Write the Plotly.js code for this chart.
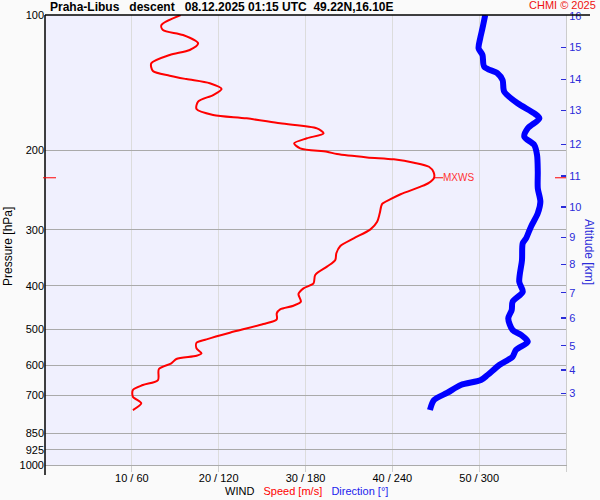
<!DOCTYPE html>
<html><head><meta charset="utf-8">
<script src="https://cdn.plot.ly/plotly-3.0.1.min.js"></script>
<style>html,body{margin:0;padding:0;background:#fafafa}</style>
</head><body><div id="chart" style="width:600px;height:500px"></div>
<script>
// Wind speed profile (m/s) vs pressure (hPa)
const speedPressure = [100,105.3,108.0,110.8,115.6,119.6,122.7,128.0,133.2,136.4,138.8,141.8,146.0,150.6,155.8,161.8,166.8,169.7,174.1,178.6,183.2,187.9,192.8,197.8,201.3,203.7,207.2,209.3,212.9,217.4,223.5,230.0,236.0,240.7,250.2,256.7,263.0,275.9,288.0,299.5,313.5,326.1,338.4,350.2,362.4,378.2,394.8,405.0,416.9,433.6,442.6,450.8,460.1,474.5,486.1,508.2,525.7,534.9,550.5,564.7,571.7,581.4,594.3,611.9,647.4,664.2,681.3,705.1,729.4,754.8];
const speed = [15.63,13.40,13.58,15.90,17.63,16.67,14.36,12.24,12.43,14.36,16.29,18.98,20.34,19.36,17.63,17.45,19.36,23.23,27.08,31.32,32.08,30.16,28.69,29.39,32.47,33.63,37.10,40.17,42.49,44.22,44.75,44.8,44.2,43.26,40.95,39.79,38.83,38.55,38.25,37.48,35.55,34.01,33.55,33.43,32.47,31.12,30.92,29.77,29.19,29.47,28.61,27.08,26.69,26.69,25.14,21.29,18.60,17.45,17.45,18.02,17.45,15.13,14.55,13.12,13.01,11.27,10.12,10.12,11.09,10.12];
// Wind direction profile (deg) vs pressure (hPa)
const dirPressure = [100,107.0,112.7,118.6,122.7,130.3,134.8,139.5,148.0,157.1,165.4,169.7,178.6,186.4,194.5,204.7,222.9,242.7,260.0,275.9,295.4,313.5,321.6,350.2,391.5,412.1,433.6,452.5,472.1,501.2,514.1,532.1,555.1,574.4,599.4,631.0,647.4,664.2,690.8,717.0,754.8];
const direction = [304.2,302.3,300.7,299.6,302.3,303.5,312.7,316.2,317.3,326.6,338.1,341.6,333.6,331.2,338.1,340.0,340.5,340.5,342.3,340.5,335.8,332.4,330.1,329.6,327.7,330.1,323.1,322.5,320.1,323.1,328.9,333.6,325.4,323.1,313.9,305.8,301.2,287.3,278.1,268.8,266.0];
// Axis labels
const pressureTicks = [100,200,300,400,500,600,700,850,925,1000];
const speedTicks = [10,20,30,40,50];
const directionTicks = [60,120,180,240,300];
const altitudeKm = [3,4,5,6,7,8,9,10,11,12,13,14,15,16];
const altitudePressure = [693,615,543,471,414,358,312,267,228,194,163,139,118,100.4];

// maximum wind
let iMax = 0;
speed.forEach((s,i)=>{ if (s > speed[iMax]) iMax = i; });
const mxwsSpeed = speed[iMax], mxwsPressure = speedPressure[iMax];
const toPaperY = p => 3 - Math.log10(p);

const RED = '#ff0000', BLUE = '#0000ff', ALTBLUE = '#2b2bd9';
const W = 521, H = 450, L = 45, T = 15;
const px = x => (x - L) / W;
const py = y => (T + H - y) / H;

const traces = [
  {x: speed, y: speedPressure, type: 'scatter', mode: 'lines', xaxis: 'x', yaxis: 'y',
   line: {color: RED, width: 2, shape: 'spline', smoothing: 0.8}, hoverinfo: 'skip'},
  {x: direction, y: dirPressure, type: 'scatter', mode: 'lines', xaxis: 'x2', yaxis: 'y2',
   line: {color: BLUE, width: 6, shape: 'spline', smoothing: 0.8}, hoverinfo: 'skip'}
];

const yM = toPaperY(mxwsPressure);
const layout = {
  width: 600, height: 500,
  margin: {l: 45, r: 34, t: 15, b: 35, pad: 0},
  paper_bgcolor: '#fafafa', plot_bgcolor: '#f0f0fe',
  font: {family: 'Liberation Sans, Arial, sans-serif', size: 11, color: '#000'},
  showlegend: false,
  title: {text: '<b>Praha-Libus\u00a0\u00a0\u00a0descent\u00a0\u00a0\u00a008.12.2025 01:15 UTC\u00a0\u00a049.22N,16.10E</b>',
          xref: 'container', x: 50/600, xanchor: 'left', yref: 'container', y: 1 - 7/500, yanchor: 'middle',
          font: {size: 12, color: '#000'}},
  xaxis: {range: [0, 60], tickvals: speedTicks.concat([60]),
          ticktext: speedTicks.map((s, i) => s + ' / ' + directionTicks[i]).concat(['']),
          showgrid: true, gridcolor: '#dcdcdc', ticks: 'outside', ticklen: 6, tickcolor: '#cfcfcf',
          ticklabelstandoff: -3,
          showline: true, linecolor: '#aaaaaa', zeroline: false, tickfont: {size: 11}, fixedrange: true},
  xaxis2: {range: [0, 360], overlaying: 'x', anchor: 'y2', visible: false, fixedrange: true},
  yaxis: {type: 'log', range: [3, 2], tickvals: pressureTicks, ticktext: pressureTicks.map(String),
          showgrid: true, gridcolor: '#aaaaaa', ticks: '', showline: false, zeroline: false,
          tickfont: {size: 11}, fixedrange: true},
  yaxis2: {type: 'log', range: [3, 2], overlaying: 'y', side: 'right', anchor: 'x2',
           tickvals: altitudePressure, ticktext: altitudeKm.map(String),
           ticks: 'inside', ticklen: 5, tickwidth: 1.5, tickcolor: ALTBLUE, tickfont: {color: ALTBLUE, size: 11},
           showgrid: false, showline: true, linecolor: '#cccccc', zeroline: false, fixedrange: true},
  shapes: [
    {type: 'line', xref: 'paper', yref: 'paper', x0: 0, x1: px(590), y0: 1, y1: 1, line: {color: '#000', width: 1.5}},
    {type: 'line', xref: 'paper', yref: 'paper', x0: 0, x1: 0, y0: 1, y1: py(475), line: {color: '#000', width: 1.5}},
    {type: 'line', xref: 'paper', yref: 'paper', xsizemode: 'pixel', xanchor: 0, x0: -2, x1: 11, y0: yM, y1: yM, line: {color: RED, width: 1}},
    {type: 'line', xref: 'paper', yref: 'paper', xsizemode: 'pixel', xanchor: 1, x0: -11, x1: 0, y0: yM, y1: yM, line: {color: RED, width: 1}},
    {type: 'line', xref: 'x', yref: 'paper', xsizemode: 'pixel', xanchor: mxwsSpeed, x0: 0, x1: 9, y0: yM, y1: yM, line: {color: RED, width: 1}}
  ],
  annotations: [
    {text: 'MXWS', xref: 'x', x: mxwsSpeed, xshift: 7, xanchor: 'left', yref: 'paper', y: yM, yanchor: 'middle',
     showarrow: false, font: {size: 10, color: '#ff3333'}},
    {text: 'CHMI \u00a9 2025', xref: 'paper', x: px(597), xanchor: 'right', yref: 'paper', y: py(5), yanchor: 'middle',
     showarrow: false, borderpad: 0, font: {size: 11, color: '#ee1111'}},
    {text: 'Pressure [hPa]', xref: 'paper', x: px(8), xanchor: 'center', yref: 'paper', y: py(247), yanchor: 'middle',
     textangle: -90, showarrow: false, font: {size: 12, color: '#000'}},
    {text: 'Altitude [km]', xref: 'paper', x: px(589), xanchor: 'center', yref: 'paper', y: py(252), yanchor: 'middle',
     textangle: 90, showarrow: false, font: {size: 12, color: ALTBLUE}},
    {text: 'WIND\u00a0\u00a0 <span style="color:#ff0000">Speed [m/s]</span>\u00a0\u00a0 <span style="color:#2222ee">Direction [\u00b0]</span>',
     xref: 'paper', x: px(306), xanchor: 'center', yref: 'paper', y: py(491), yanchor: 'middle',
     showarrow: false, font: {size: 11, color: '#000'}}
  ]
};

Plotly.newPlot('chart', traces, layout, {staticPlot: true, displayModeBar: false});
</script>
</body></html>
